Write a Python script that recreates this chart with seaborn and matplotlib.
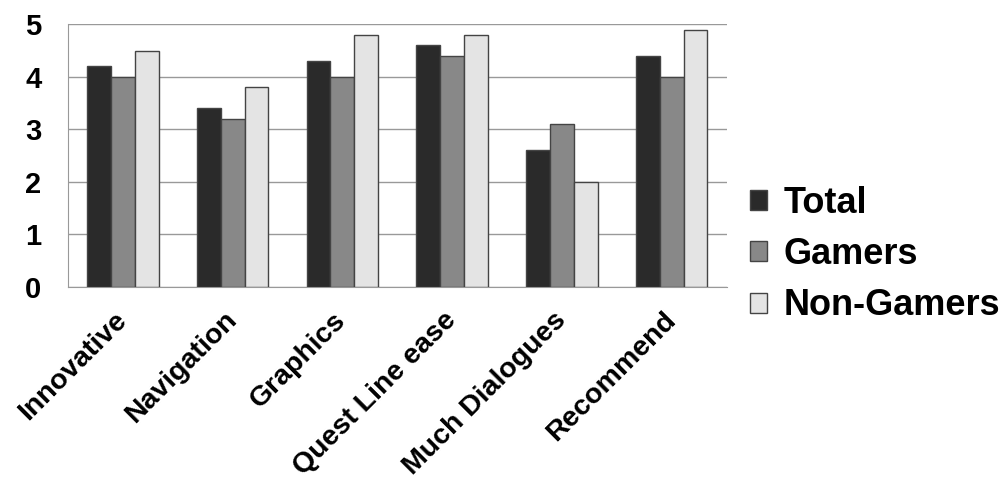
import seaborn as sns
import matplotlib.pyplot as plt
import pandas as pd

# Chart values
categories = ['Innovative', 'Navigation', 'Graphics', 'Quest Line ease',
              'Much Dialogues', 'Recommend']
total = [4.2, 3.4, 4.3, 4.6, 2.6, 4.4]
gamers = [4.0, 3.2, 4.0, 4.4, 3.1, 4.0]
non_gamers = [4.5, 3.8, 4.8, 4.8, 2.0, 4.9]
series = ['Total', 'Gamers', 'Non-Gamers']
colors = ['#2a2a2a', '#888888', '#e4e4e4']

df = pd.DataFrame({
    'Category': categories * 3,
    'Group': [s for s in series for _ in categories],
    'Score': total + gamers + non_gamers,
})

sns.set_style('white')
plt.rcParams['font.family'] = ['Liberation Sans', 'DejaVu Sans']
plt.rcParams['font.weight'] = 'bold'
plt.rcParams['text.color'] = 'black'
plt.rcParams['xtick.labelcolor'] = 'black'
plt.rcParams['ytick.labelcolor'] = 'black'

fig = plt.figure(figsize=(10.07, 4.88), dpi=100)
ax = fig.add_axes([0.0675, 0.412, 0.654, 0.538])

sns.barplot(df, x='Category', y='Score', hue='Group', palette=colors,
            width=0.65, gap=0, edgecolor='#444444', linewidth=1,
            ax=ax, zorder=3)

ax.set_xlim(-0.5, 5.5)
ax.set_ylim(0, 5)
ax.set_yticks(range(6))
ax.grid(axis='y', color='#999999', linewidth=1, zorder=0)
ax.set_axisbelow(True)
ax.spines[['top', 'right']].set_visible(False)
ax.spines[['left', 'bottom']].set_color('#999999')
ax.set_xlabel('')
ax.set_ylabel('')

ax.tick_params(axis='y', length=10, color='#999999', labelsize=21, pad=9)
ax.tick_params(axis='x', which='major', length=0, labelsize=20.5, pad=21)
ax.set_xticks([i - 0.5 for i in range(7)], minor=True)
ax.tick_params(axis='x', which='minor', length=10, color='#999999')
for lbl in ax.get_yticklabels():
    lbl.set_fontweight('bold')
for lbl in ax.get_xticklabels():
    lbl.set_rotation(45)
    lbl.set_ha('right')
    lbl.set_va('center')
    lbl.set_rotation_mode('anchor')
    lbl.set_fontweight('bold')

handles, labels = ax.get_legend_handles_labels()
ax.legend(handles, labels, loc='upper left', bbox_to_anchor=(0.745, 0.619),
          bbox_transform=fig.transFigure, frameon=False, fontsize=26,
          handlelength=0.47, handleheight=0.47, handletextpad=0.45,
          labelspacing=0.45, borderpad=0, borderaxespad=0)

fig.savefig('out.png', dpi=100)
